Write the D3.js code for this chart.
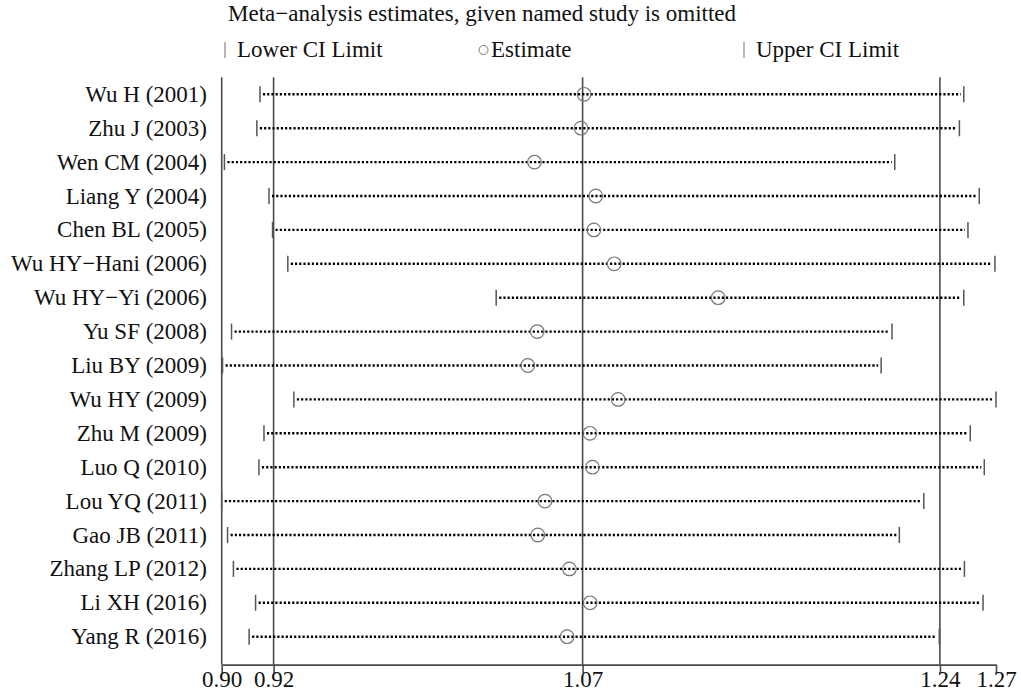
<!DOCTYPE html>
<html>
<head>
<meta charset="utf-8">
<script src="https://cdn.jsdelivr.net/npm/d3@7"></script>
<style>
  html, body { margin: 0; padding: 0; background: #ffffff; }
  svg { display: block; }
  text { font-family: "Liberation Serif", "Times New Roman", serif; fill: #111; }
</style>
</head>
<body>
<script>
// Leave-one-out sensitivity analysis: pooled estimate and 95% CI with each study omitted
const studies = [
  "Wu H (2001)", "Zhu J (2003)", "Wen CM (2004)", "Liang Y (2004)", "Chen BL (2005)",
  "Wu HY\u2212Hani (2006)", "Wu HY\u2212Yi (2006)", "Yu SF (2008)", "Liu BY (2009)",
  "Wu HY (2009)", "Zhu M (2009)", "Luo Q (2010)", "Lou YQ (2011)", "Gao JB (2011)",
  "Zhang LP (2012)", "Li XH (2016)", "Yang R (2016)"
];
const lowerCI = [
  0.9182, 0.9167, 0.9012, 0.9225, 0.9242,
  0.9315, 1.0311, 0.9046, 0.9003,
  0.9344, 0.9201, 0.9177, 0.8999, 0.9027,
  0.9055, 0.9161, 0.9130
];
const estimates = [
  1.0731, 1.0716, 1.0494, 1.0787, 1.0778,
  1.0875, 1.1372, 1.0507, 1.0462,
  1.0894, 1.0759, 1.0771, 1.0544, 1.0510,
  1.0661, 1.0760, 1.0650
];
const upperCI = [
  1.2546, 1.2525, 1.2216, 1.2620, 1.2566,
  1.2695, 1.2546, 1.2203, 1.2151,
  1.2700, 1.2577, 1.2644, 1.2355, 1.2238,
  1.2549, 1.2638, 1.2429
];
// Pooled result with all studies: lower CI, estimate, upper CI
const pooled = [0.9247, 1.0724, 1.2432];
const tickLabels = ["0.90", "0.92", "1.07", "1.24", "1.27"];
const titleText = "Meta\u2212analysis estimates, given named study is omitted";
const legendLabels = ["Lower CI Limit", "Estimate", "Upper CI Limit"];

const W = 1021, H = 693;
const svg = d3.select("body").append("svg").attr("width", W).attr("height", H);

const xMin = d3.min(lowerCI), xMax = d3.max(upperCI);
const x = d3.scaleLinear().domain([xMin, xMax]).range([221.7, 996]);
const y = d3.scalePoint().domain(studies).range([94.3, 636.7]);
const step = y.step();
const plotTop = y.range()[0] - step / 2;
const axisY = 664.6;
const tickValues = [xMin, ...pooled, xMax];

const lineColor = "#4a4a4a";
const ciColor = "#555";
const circleColor = "#777";
const fontSize = 23;

// Title
svg.append("text").attr("x", 228).attr("y", 21)
  .attr("font-size", fontSize).text(titleText);

// Legend
const legend = svg.append("g");
const legY = 57;
[[225, 0], [744, 2]].forEach(([lx, i]) => {
  legend.append("line").attr("x1", lx).attr("x2", lx)
    .attr("y1", legY - 15).attr("y2", legY + 1)
    .attr("stroke", "#888").attr("stroke-width", 1.2);
  legend.append("text").attr("x", lx + 12).attr("y", legY)
    .attr("font-size", fontSize).text(legendLabels[i]);
});
legend.append("circle").attr("cx", 483.5).attr("cy", legY - 7).attr("r", 4.5)
  .attr("fill", "none").attr("stroke", circleColor).attr("stroke-width", 1);
legend.append("text").attr("x", 491).attr("y", legY)
  .attr("font-size", fontSize).text(legendLabels[1]);

// Left axis line of the plot region
svg.append("line").attr("x1", x(xMin)).attr("x2", x(xMin))
  .attr("y1", plotTop).attr("y2", axisY)
  .attr("stroke", lineColor).attr("stroke-width", 1.6);

// Reference lines at pooled lower CI, estimate and upper CI
svg.append("g").selectAll("line").data(pooled).join("line")
  .attr("x1", d => x(d)).attr("x2", d => x(d))
  .attr("y1", plotTop).attr("y2", axisY)
  .attr("stroke", lineColor).attr("stroke-width", 1.6);

// Bottom axis
const axis = d3.axisBottom(x).tickValues(tickValues)
  .tickFormat((d, i) => tickLabels[i]).tickSize(9).tickPadding(0).tickSizeOuter(0);
const gAxis = svg.append("g").attr("transform", `translate(0,${axisY})`).call(axis);
gAxis.select(".domain").attr("stroke", lineColor).attr("stroke-width", 1.6);
gAxis.selectAll(".tick line").attr("stroke", lineColor).attr("stroke-width", 1.6);
gAxis.selectAll(".tick text")
  .attr("font-family", "'Liberation Serif', 'Times New Roman', serif")
  .attr("font-size", fontSize).attr("fill", "#111")
  .attr("y", 6).attr("dy", "0.71em");

// Study rows
const rows = svg.append("g").selectAll("g").data(studies).join("g")
  .attr("transform", d => `translate(0,${y(d)})`);

rows.append("text").attr("x", 207).attr("y", 7.5)
  .attr("text-anchor", "end").attr("font-size", fontSize).text(d => d);

rows.append("line")
  .attr("x1", (d, i) => x(lowerCI[i]) + 3).attr("x2", (d, i) => x(upperCI[i]) - 3)
  .attr("y1", 0).attr("y2", 0)
  .attr("stroke", "#000").attr("stroke-width", 2.4)
  .attr("stroke-dasharray", "2.2,2");

rows.append("line")
  .attr("x1", (d, i) => x(lowerCI[i])).attr("x2", (d, i) => x(lowerCI[i]))
  .attr("y1", -8).attr("y2", 8)
  .attr("stroke", ciColor).attr("stroke-width", 1.5);

rows.append("line")
  .attr("x1", (d, i) => x(upperCI[i])).attr("x2", (d, i) => x(upperCI[i]))
  .attr("y1", -8).attr("y2", 8)
  .attr("stroke", ciColor).attr("stroke-width", 1.5);

rows.append("circle")
  .attr("cx", (d, i) => x(estimates[i])).attr("cy", 0).attr("r", 6.8)
  .attr("fill", "none").attr("stroke", circleColor).attr("stroke-width", 1.2);
</script>
</body>
</html>
